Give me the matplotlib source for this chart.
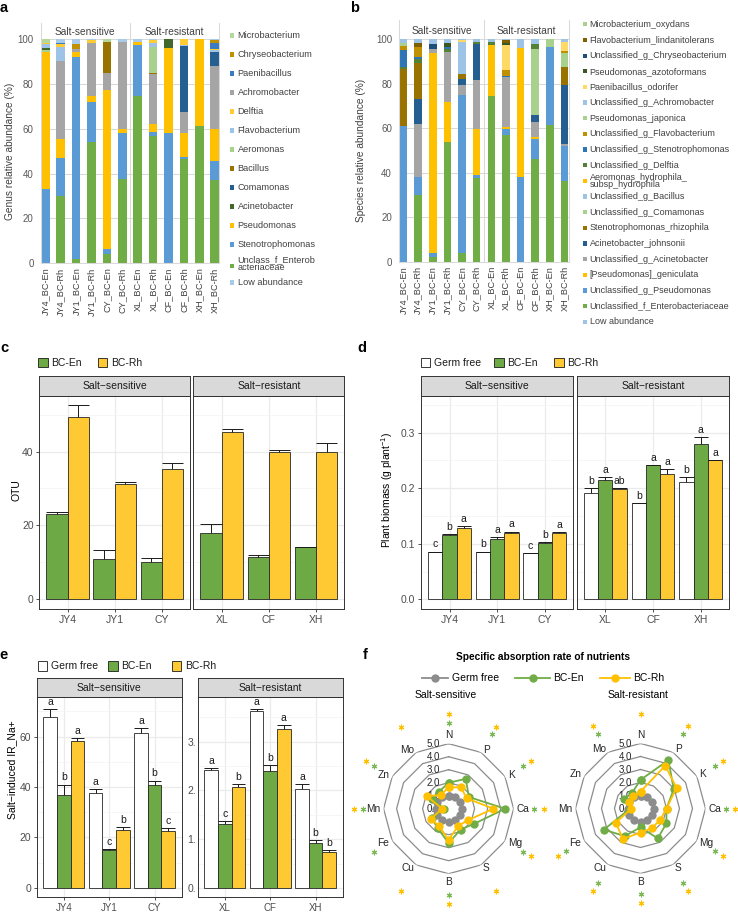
import numpy as np
import matplotlib
matplotlib.use('Agg')
import matplotlib.pyplot as plt
from matplotlib.patches import Rectangle
from matplotlib.lines import Line2D

plt.rcParams['font.family'] = ['Liberation Sans', 'DejaVu Sans']
plt.rcParams['mathtext.fontset'] = 'custom'
plt.rcParams['mathtext.rm'] = 'Liberation Sans'
plt.rcParams['mathtext.it'] = 'Liberation Sans:italic'
plt.rcParams['mathtext.bf'] = 'Liberation Sans:bold'

W, H = 738, 913

# ---------------- panel a: genus relative abundance (%) ----------------
samples = ['JY4_BC-En', 'JY4_BC-Rh', 'JY1_BC-En', 'JY1_BC-Rh', 'CY_BC-En', 'CY_BC-Rh',
           'XL_BC-En', 'XL_BC-Rh', 'CF_BC-En', 'CF_BC-Rh', 'XH_BC-En', 'XH_BC-Rh']

g_unclass = [0, 30, 2, 54, 4, 37.5, 74.5, 57, 0, 46.5, 61.5, 37]
g_steno = [33, 17, 90, 18, 2.5, 20.5, 23, 1.5, 58, 1, 0, 8.5]
g_pseudo = [61.5, 8.5, 2.5, 2.5, 71, 2, 1.5, 3.5, 38, 10.5, 38.5, 14.5]
g_achromo = [0, 35, 1, 24, 7.5, 39, 0, 22.5, 0, 9.5, 0, 28]
g_comam = [0, 0, 0, 0, 0, 0, 0, 0, 0, 29.5, 0, 6.5]
g_bacil = [0, 0, 0, 0, 14, 0, 0, 0.5, 0, 0, 0, 0]
g_aero = [0.5, 0, 0, 0, 0, 0, 0, 11.5, 0, 0, 0, 0]
g_acin = [1, 0, 0, 0, 0, 0, 0, 0, 4, 0, 0, 0]
g_flavo = [2, 6, 0, 0, 0, 0, 0, 2, 0, 0.5, 0, 0.5]
g_delft = [0.5, 1.5, 0, 1, 0, 0, 0, 1, 0, 2.5, 0, 0.5]
g_paeni = [0, 0.5, 0, 0, 0, 0, 0, 0, 0, 0, 0, 3]
g_chryseo = [0, 0, 2.5, 0, 0, 0, 0, 0, 0, 0, 0, 1]
g_micro = [1.5, 0, 0, 0, 1, 0, 0, 0, 0, 0, 0, 0]
g_low = [0, 1.5, 2, 0.5, 0, 1, 1, 0.5, 0, 0, 0, 0.5]

# stacking order, bottom first
genus_stack = [
    ('Unclass_f_Enterob\nacteriaceae', g_unclass, '#70AD47'),
    ('Stenotrophomonas', g_steno, '#5B9BD5'),
    ('Pseudomonas', g_pseudo, '#FFC000'),
    ('Achromobacter', g_achromo, '#A5A5A5'),
    ('Comamonas', g_comam, '#255E91'),
    ('Bacillus', g_bacil, '#997300'),
    ('Aeromonas', g_aero, '#A9D18E'),
    ('Acinetobacter', g_acin, '#43682B'),
    ('Flavobacterium', g_flavo, '#9DC3E6'),
    ('Delftia', g_delft, '#FFCD33'),
    ('Paenibacillus', g_paeni, '#3A7BC2'),
    ('Chryseobacterium', g_chryseo, '#BF9000'),
    ('Microbacterium', g_micro, '#B4D89A'),
    ('Low abundance', g_low, '#A8CBEA'),
]
genus_legend = ['Microbacterium', 'Chryseobacterium', 'Paenibacillus', 'Achromobacter', 'Delftia',
                'Flavobacterium', 'Aeromonas', 'Bacillus', 'Comamonas', 'Acinetobacter',
                'Pseudomonas', 'Stenotrophomonas', 'Unclass_f_Enterob\nacteriaceae', 'Low abundance']

# ---------------- panel b: species relative abundance (%) ----------------
s_micro = [0, 0, 0, 0, 0, 0, 0, 0, 0, 0, 0, 0]
s_flavo_lind = [0, 1.8, 0, 0, 0, 0, 0, 1, 0, 0, 0, 0]
s_ug_chryseo = [0, 0, 2.5, 0, 0, 0, 0, 0, 0, 0, 0, 0]
s_azoto = [0, 0, 0, 2, 0, 0, 0, 1, 0, 0, 0, 0]
s_paeni = [0, 0, 0, 0, 0.5, 0, 0, 11.5, 0, 0, 0, 4.2]
s_ug_achromo = [0, 0, 0, 0, 0, 0, 0, 0, 0, 0, 0, 0]
s_japonica = [1.5, 0, 0, 0, 0, 0, 0, 0, 0, 0, 3.5, 0]
s_ug_flavo = [2, 4.7, 0, 0, 0, 0, 0, 2.5, 0, 0, 0, 0.8]
s_ug_steno = [7.5, 1, 0, 1, 0, 0, 0, 0.5, 0, 0, 0, 0]
s_ug_delftia = [1, 1.5, 0, 1, 0, 1, 1.5, 0, 0, 2.5, 0, 0]
s_aeromonas = [0, 0, 0, 0, 0, 0, 0, 0, 0, 0, 0, 0]
s_ug_bacil = [0, 0, 0, 0, 14.5, 0, 0, 0, 0, 0, 0, 0]
s_ug_comam = [0, 0, 0, 0, 0, 0, 0, 0, 0, 29.5, 0, 6.3]
s_steno_rhiz = [25.5, 16.5, 0, 0, 2.5, 0, 0, 0, 0, 0, 0, 8.2]
s_acin_john = [0, 11, 0, 0, 2.5, 16.5, 0, 0, 0, 3, 0, 26.5]
s_ug_acin = [0, 24, 1.5, 22.5, 4.5, 22, 0, 22.5, 0, 7, 0, 1]
s_geniculata = [0, 0, 90, 18, 0, 20.5, 23, 1, 58, 1, 0, 0]
s_ug_pseudo = [61, 8, 2, 0, 71, 1.5, 0, 2.5, 38, 9, 35, 15.5]
s_unc_entero = [0, 30, 2, 54, 4, 37.5, 74.5, 57, 0, 46, 61.5, 36.5]
s_low = [1.5, 1.5, 2, 1.5, 0.5, 1, 1, 0.5, 4, 2, 0, 1]

species_legend = [
    ('Microbacterium_oxydans', s_micro, '#A9D18E'),
    ('Flavobacterium_lindanitolerans', s_flavo_lind, '#7F6000'),
    ('Unclassified_g_Chryseobacterium', s_ug_chryseo, '#1F4E79'),
    ('Pseudomonas_azotoformans', s_azoto, '#385723'),
    ('Paenibacillus_odorifer', s_paeni, '#FFD966'),
    ('Unclassified_g_Achromobacter', s_ug_achromo, '#9DC3E6'),
    ('Pseudomonas_japonica', s_japonica, '#A9D18E'),
    ('Unclassified_g_Flavobacterium', s_ug_flavo, '#BF9000'),
    ('Unclassified_g_Stenotrophomonas', s_ug_steno, '#2E75B6'),
    ('Unclassified_g_Delftia', s_ug_delftia, '#548235'),
    ('Aeromonas_hydrophila_\nsubsp_hydrophila', s_aeromonas, '#FFC000'),
    ('Unclassified_g_Bacillus', s_ug_bacil, '#9DC3E6'),
    ('Unclassified_g_Comamonas', s_ug_comam, '#A9D18E'),
    ('Stenotrophomonas_rhizophila', s_steno_rhiz, '#997300'),
    ('Acinetobacter_johnsonii', s_acin_john, '#255E91'),
    ('Unclassified_g_Acinetobacter', s_ug_acin, '#A5A5A5'),
    ('[Pseudomonas]_geniculata', s_geniculata, '#FFC000'),
    ('Unclassified_g_Pseudomonas', s_ug_pseudo, '#5B9BD5'),
    ('Unclassified_f_Enterobacteriaceae', s_unc_entero, '#70AD47'),
    ('Low abundance', s_low, '#9DC3E6'),
]

# ---------------- panel c: OTU ----------------
var_s = ['JY4', 'JY1', 'CY']
var_r = ['XL', 'CF', 'XH']
otu_en = [23.2, 10.9, 10.2, 17.9, 11.4, 14.3]
otu_en_se = [0.4, 2.5, 1.1, 2.5, 0.5, 0.0]
otu_rh = [49.4, 31.1, 35.4, 45.4, 39.8, 39.9]
otu_rh_se = [3.1, 0.7, 1.6, 0.7, 0.6, 2.5]

# ---------------- panel d: plant biomass ----------------
bio_gf = [0.085, 0.085, 0.083, 0.192, 0.173, 0.212]
bio_gf_se = [0.001, 0.001, 0.001, 0.008, 0.001, 0.009]
bio_en = [0.116, 0.108, 0.102, 0.215, 0.2415, 0.280]
bio_en_se = [0.001, 0.004, 0.001, 0.006, 0.001, 0.013]
bio_rh = [0.128, 0.119, 0.119, 0.199, 0.226, 0.250]
bio_rh_se = [0.004, 0.003, 0.002, 0.002, 0.008, 0.001]
bio_let_gf = ['c', 'b', 'c', 'b', 'b', 'b']
bio_let_en = ['b', 'a', 'b', 'a', 'a', 'a']
bio_let_rh = ['a', 'a', 'a', 'ab', 'a', 'a']

# ---------------- panel e: salt-induced IR_Na+ ----------------
ir_gf = [67.7, 37.6, 61.5, 2.42, 3.62, 2.02]
ir_gf_se = [3.2, 1.7, 1.9, 0.03, 0.05, 0.11]
ir_en = [37.0, 15.0, 41.0, 1.30, 2.39, 0.92]
ir_en_se = [4.0, 0.3, 1.6, 0.07, 0.13, 0.06]
ir_rh = [58.2, 23.0, 22.4, 2.07, 3.25, 0.74]
ir_rh_se = [1.3, 1.0, 1.3, 0.05, 0.09, 0.03]
ir_let_gf = ['a', 'a', 'a', 'a', 'a', 'a']
ir_let_en = ['b', 'c', 'b', 'c', 'b', 'b']
ir_let_rh = ['a', 'b', 'c', 'b', 'a', 'b']

# ---------------- panel f: specific absorption rate ----------------
elements = ['N', 'P', 'K', 'Ca', 'Mg', 'S', 'B', 'Cu', 'Fe', 'Mn', 'Zn', 'Mo']
sar_gf = [1.0, 1.0, 1.0, 1.0, 1.0, 1.0, 1.0, 1.0, 1.0, 1.0, 1.0, 1.0]
sar_sens_en = [2.0, 2.65, 1.8, 4.35, 2.3, 1.85, 2.65, 1.7, 1.5, 0.35, 1.5, 1.5]
sar_sens_rh = [1.65, 1.9, 1.6, 3.45, 1.75, 1.5, 2.4, 1.5, 1.6, 0.5, 1.95, 1.2]
sar_res_en = [2.2, 4.3, 2.95, 2.0, 2.3, 2.65, 1.45, 2.45, 3.25, 0.8, 1.45, 1.35]
sar_res_rh = [1.3, 3.8, 3.2, 2.0, 1.75, 1.75, 1.85, 2.7, 2.2, 0.7, 1.0, 1.1]
sig_sens_en = ['N', 'P', 'K', 'Ca', 'Mg', 'B', 'Fe', 'Mn', 'Zn']
sig_sens_rh = ['N', 'P', 'K', 'Ca', 'Mg', 'S', 'B', 'Cu', 'Mn', 'Zn', 'Mo']
sig_res_en = ['P', 'K', 'Ca', 'Mg', 'S', 'B', 'Cu', 'Fe', 'Mo']
sig_res_rh = ['N', 'P', 'K', 'Ca', 'Mg', 'S', 'B', 'Cu', 'Fe', 'Mo']

GREEN = '#6DAA45'
YELLOW = '#FFC933'
TXT = '#404040'

fig = plt.figure(figsize=(W / 100, H / 100), dpi=100)
fig.patch.set_facecolor('white')


def px(x0, y0, x1, y1):
    return [x0 / W, 1 - y1 / H, (x1 - x0) / W, (y1 - y0) / H]


def T(x, y, s, **kw):
    return fig.text(x / W, 1 - y / H, s, **kw)


def square(x, y, w, h, fc, ec='none', lw=0):
    fig.add_artist(Rectangle((x / W, 1 - (y + h) / H), w / W, h / H, facecolor=fc,
                             edgecolor=ec, linewidth=lw, transform=fig.transFigure))


# ---------- stacked panels (a, b) ----------
def stacked(box, strip_top, stack, width, ylab, ylab_x):
    l, t, r, b = box
    ax = fig.add_axes(px(l, t, r, b))
    xs = np.arange(len(samples))
    bottom = np.zeros(len(samples))
    for name, vals, col in stack:
        ax.bar(xs, vals, width, bottom=bottom, color=col, linewidth=0, zorder=2)
        bottom += np.array(vals, dtype=float)
    ax.set_xlim(-0.3, len(samples) - 0.7)
    ax.set_ylim(0, 100)
    ax.set_yticks(np.arange(0, 101, 20))
    ax.yaxis.grid(True, color='#D9D9D9', lw=0.75)
    ax.set_axisbelow(True)
    ax.spines['top'].set_visible(False)
    for s in ['left', 'right', 'bottom']:
        ax.spines[s].set_color('#D9D9D9')
        ax.spines[s].set_linewidth(0.75)
    ax.axvline(5.5, color='#D9D9D9', lw=0.75, zorder=1)
    ax.set_xticks(xs)
    ax.set_xticklabels(samples, rotation=90, fontsize=6.6, color=TXT)
    ax.tick_params(axis='both', length=0)
    ax.tick_params(axis='x', pad=3)
    ax.tick_params(axis='y', pad=5, labelsize=7, labelcolor='#595959')
    sax = fig.add_axes(px(l, strip_top, r, t))
    sax.set_xlim(ax.get_xlim())
    sax.set_ylim(0, 1)
    sax.axis('off')
    for xv in [-0.3, 5.5, len(samples) - 0.7]:
        sax.axvline(xv, color='#D9D9D9', lw=0.75, clip_on=False)
    sax.text(2.6, 0.45, 'Salt-sensitive', ha='center', va='center', fontsize=7.3, color=TXT)
    sax.text(8.4, 0.45, 'Salt-resistant', ha='center', va='center', fontsize=7.3, color=TXT)
    T(ylab_x, (t + b) / 2, ylab, rotation=90, ha='center', va='center', fontsize=7.3, color=TXT)
    return ax


stacked((40.7, 39.3, 219.3, 263.3), 22.7, genus_stack, 0.55, 'Genus relative abundance (%)', 10)
gcol = {n: c for n, v, c in genus_stack}
for i, name in enumerate(genus_legend):
    yy = 35.5 + 19 * i
    if '\n' in name:
        square(230, yy + 0.5, 4.2, 4.2, gcol[name])
        T(237.5, yy, name, ha='left', va='center', fontsize=6.6, color=TXT, linespacing=0.85)
    else:
        square(230, yy - 2.1, 4.2, 4.2, gcol[name])
        T(237.5, yy, name, ha='left', va='center', fontsize=6.6, color=TXT)

sp_stack = list(reversed(species_legend[:-1])) + [species_legend[-1]]
stacked((399, 39.3, 569, 261.7), 20, sp_stack, 0.52, 'Species relative abundance (%)', 361)
for i, (name, vals, col) in enumerate(species_legend):
    yy = 24.3 + 15.66 * i
    square(583, yy - 2.1, 4.2, 4.2, col)
    T(589.5, yy, name, ha='left', va='center', fontsize=6.5, color=TXT, linespacing=0.8)


# ---------- ggplot-like facets (c, d, e) ----------
def facet(box, strip_top, title, labels, means, errs, cols, letters, ylim, yticks, ytl, minor,
          show_y=True, y_ticks_marks=True, xfs=7.5):
    l, t, r, b = box
    ax = fig.add_axes(px(l, t, r, b))
    n = len(means)
    w = 0.9 / n
    xs = np.arange(1, len(labels) + 1)
    for j in range(n):
        xp = xs + (j - (n - 1) / 2) * w
        m = np.array(means[j], dtype=float)
        e = np.array(errs[j], dtype=float)
        ax.bar(xp, m, w, color=cols[j], edgecolor='#262626', linewidth=0.6, zorder=2)
        ax.vlines(xp, m, m + e, color='#1a1a1a', lw=0.7, zorder=3)
        ax.hlines(m + e, xp - w / 2, xp + w / 2, color='#1a1a1a', lw=0.7, zorder=3)
        if letters is not None:
            for xv, yv, s in zip(xp, m + e, letters[j]):
                ax.annotate(s, (xv, yv), xytext=(0, 1.5), textcoords='offset points',
                            ha='center', va='bottom', fontsize=7.5, color='#1a1a1a')
    ax.set_xlim(0.4, len(labels) + 0.6)
    ax.set_ylim(*ylim)
    ax.set_xticks(xs)
    ax.set_xticklabels(labels)
    ax.set_yticks(yticks)
    ax.set_yticks(minor, minor=True)
    ax.grid(which='major', color='#EBEBEB', lw=0.9)
    ax.yaxis.grid(which='minor', color='#F3F3F3', lw=0.5)
    ax.set_axisbelow(True)
    for s in ax.spines.values():
        s.set_color('#333333')
        s.set_linewidth(0.7)
    ax.tick_params(which='minor', length=0)
    ax.tick_params(axis='both', length=2.5, width=0.6, color='#333333', labelsize=7.5,
                   labelcolor='#4D4D4D', pad=1.5)
    ax.tick_params(axis='x', labelsize=xfs)
    if show_y:
        ax.set_yticklabels(ytl)
        if not y_ticks_marks:
            ax.tick_params(axis='y', length=0, pad=1)
    else:
        ax.tick_params(axis='y', left=False, labelleft=False)
    sax = fig.add_axes(px(l, strip_top, r, t))
    sax.set_facecolor('#D9D9D9')
    sax.set_xticks([])
    sax.set_yticks([])
    for s in sax.spines.values():
        s.set_color('#333333')
        s.set_linewidth(0.7)
    sax.text(0.5, 0.5, title, ha='center', va='center', fontsize=7.5, color='#1a1a1a',
             transform=sax.transAxes)
    return ax


def legend_boxes(y, items):
    for xb, col, lab in items:
        square(xb, y - 4.8, 9.6, 9.6, col, '#1a1a1a', 0.6)
        T(xb + 13, y, lab, ha='left', va='center', fontsize=7.5, color='#1a1a1a')


SS = 'Salt\u2212sensitive'
SR = 'Salt\u2212resistant'

# c
ylc = (-2.6, 55.1)
facet((39.3, 395.7, 190, 609), 376, SS, var_s, [otu_en[:3], otu_rh[:3]], [otu_en_se[:3], otu_rh_se[:3]],
      [GREEN, YELLOW], None, ylc, [0, 20, 40], ['0', '20', '40'], [10, 30, 50])
facet((193.3, 395.7, 344.3, 609), 376, SR, var_r, [otu_en[3:], otu_rh[3:]], [otu_en_se[3:], otu_rh_se[3:]],
      [GREEN, YELLOW], None, ylc, [0, 20, 40], None, [10, 30, 50], show_y=False)
T(16, 490, 'OTU', rotation=90, ha='center', va='center', fontsize=7.5)
legend_boxes(362.7, [(38, GREEN, 'BC-En'), (97.7, YELLOW, 'BC-Rh')])

# d
yld = (-0.0175, 0.3667)
dt = [0, 0.1, 0.2, 0.3]
dtl = ['0.0', '0.1', '0.2', '0.3']
dm = [0.05, 0.15, 0.25, 0.35]
facet((421, 395.7, 573.3, 609), 376, SS, var_s, [bio_gf[:3], bio_en[:3], bio_rh[:3]],
      [bio_gf_se[:3], bio_en_se[:3], bio_rh_se[:3]], ['white', GREEN, YELLOW],
      [bio_let_gf[:3], bio_let_en[:3], bio_let_rh[:3]], yld, dt, dtl, dm)
facet((576.7, 395.7, 729.3, 609), 376, SR, var_r, [bio_gf[3:], bio_en[3:], bio_rh[3:]],
      [bio_gf_se[3:], bio_en_se[3:], bio_rh_se[3:]], ['white', GREEN, YELLOW],
      [bio_let_gf[3:], bio_let_en[3:], bio_let_rh[3:]], yld, dt, None, dm, show_y=False)
T(387.5, 490, 'Plant biomass (g plant$^{-1}$)', rotation=90, ha='center', va='center', fontsize=7.5)
legend_boxes(362.7, [(420.7, 'white', 'Germ free'), (494, GREEN, 'BC-En'), (554.3, YELLOW, 'BC-Rh')])

# e
facet((36.7, 697.3, 181.7, 897), 678.3, SS, var_s, [ir_gf[:3], ir_en[:3], ir_rh[:3]],
      [ir_gf_se[:3], ir_en_se[:3], ir_rh_se[:3]], ['white', GREEN, YELLOW],
      [ir_let_gf[:3], ir_let_en[:3], ir_let_rh[:3]], (-3.6, 75.6), [0, 20, 40, 60],
      ['0', '20', '40', '60'], [10, 30, 50, 70], xfs=7)
facet((197.7, 697.3, 342.7, 897), 678.3, SR, var_r, [ir_gf[3:], ir_en[3:], ir_rh[3:]],
      [ir_gf_se[3:], ir_en_se[3:], ir_rh_se[3:]], ['white', GREEN, YELLOW],
      [ir_let_gf[3:], ir_let_en[3:], ir_let_rh[3:]], (-0.186, 3.906), [0, 1, 2, 3],
      ['0.', '1.', '2.', '3.'], [0.5, 1.5, 2.5, 3.5], y_ticks_marks=False, xfs=7)
T(12, 770, 'Salt\u2212induced IR_Na+', rotation=90, ha='center', va='center', fontsize=7.5)
legend_boxes(666, [(37.7, 'white', 'Germ free'), (108.3, GREEN, 'BC-En'), (171.7, YELLOW, 'BC-Rh')])


# ---------- radar (f) ----------
def radar(cx, cy, sub, en, rh, sig_en, sig_rh):
    R = 65
    ax = fig.add_axes(px(cx - R, cy - R, cx + R, cy + R), projection='polar')
    ax.set_theta_zero_location('N')
    ax.set_theta_direction(-1)
    ax.set_ylim(0, 5)
    ax.set_axis_off()
    th = np.arange(len(elements)) * 2 * np.pi / len(elements)
    thc = np.append(th, th[0])
    for k in range(1, 6):
        ax.plot(thc, np.full(len(thc), k), color='#8C8C8C', lw=0.9, zorder=1)
    for k in range(0, 6):
        ax.annotate(f'{k:.1f}', (0, k), xytext=(-6, 0), textcoords='offset points',
                    ha='right', va='center', fontsize=7, color='#262626', annotation_clip=False)
    for vals, col, z in [(sar_gf, '#8C8C8C', 3), (en, '#70AD47', 4), (rh, '#FFC000', 5)]:
        v = np.append(vals, vals[0])
        ax.plot(thc, v, color=col, lw=1.3, marker='o', ms=5, zorder=z, clip_on=False)
    for t, lab in zip(th, elements):
        sx, cy_ = np.sin(t), np.cos(t)
        ha = 'center' if abs(sx) < 0.1 else ('left' if sx > 0 else 'right')
        va = 'center' if abs(cy_) < 0.9 else ('bottom' if cy_ > 0 else 'top')
        ax.text(t, 5.25, lab, ha=ha, va=va, fontsize=7.3, color='#262626', clip_on=False)
    # significance asterisks
    for names, col, rr in [(sig_en, '#7DB857', 6.6), (sig_rh, '#FFC000', 7.3)]:
        tt = [th[elements.index(nm)] for nm in names]
        ax.plot(tt, np.full(len(tt), rr), linestyle='none', marker=(6, 2, 0), ms=4,
                mew=0.8, color=col, clip_on=False)
    T(cx - 2.5, 695, sub, ha='center', va='center', fontsize=7.5)


T(543, 657.3, 'Specific absorption rate of nutrients', ha='center', va='center', fontsize=7.3,
  fontweight='bold')
for x0, x1, col, lab in [(421.7, 448.3, '#8C8C8C', 'Germ free'), (515, 550, '#70AD47', 'BC-En'),
                         (600, 630, '#FFC000', 'BC-Rh')]:
    yy = 1 - 677.7 / H
    fig.add_artist(Line2D([x0 / W, x1 / W], [yy, yy], color=col, lw=1.3, transform=fig.transFigure))
    fig.add_artist(Line2D([(x0 + x1) / 2 / W], [yy], color=col, marker='o', ms=5,
                          transform=fig.transFigure))
    T(x1 + 3.5, 677.7, lab, ha='left', va='center', fontsize=7.5)

radar(448.6, 808.7, 'Salt-sensitive', sar_sens_en, sar_sens_rh, sig_sens_en, sig_sens_rh)
radar(640.5, 808.5, 'Salt-resistant', sar_res_en, sar_res_rh, sig_res_en, sig_res_rh)

# panel letters
for x, y, s in [(4, 8, 'a'), (355, 8, 'b'), (4, 348, 'c'), (362, 348, 'd'), (4, 655, 'e'), (365, 655, 'f')]:
    T(x, y, s, ha='center', va='center', fontsize=10.5, fontweight='bold')

fig.savefig('out.png', dpi=100, facecolor='white')
